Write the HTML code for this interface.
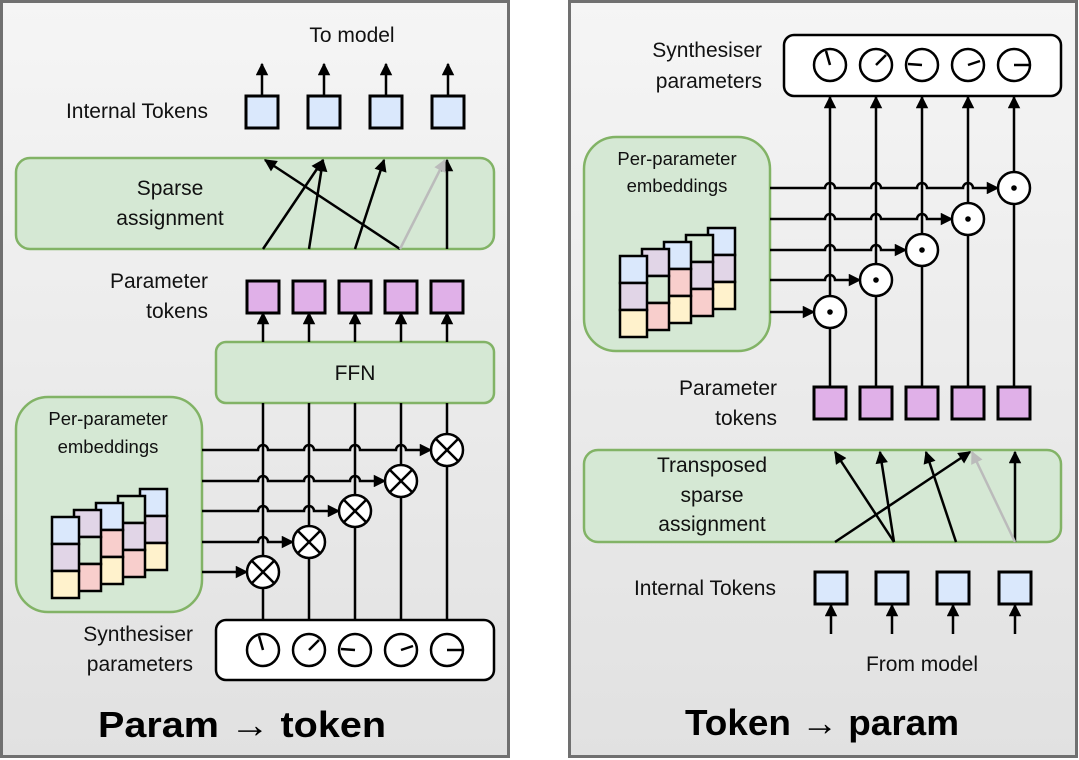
<!DOCTYPE html>
<html><head><meta charset="utf-8"><style>
html,body{margin:0;padding:0;background:#fff;}
svg{display:block;font-family:"Liberation Sans",sans-serif;}
</style></head><body>
<svg id="s" width="1079" height="760" viewBox="0 0 1079 760" xmlns="http://www.w3.org/2000/svg">
<defs>
<linearGradient id="bg" x1="0" y1="0" x2="0" y2="1"><stop offset="0" stop-color="#f5f5f5"/><stop offset="1" stop-color="#e1e1e1"/></linearGradient>
<marker id="a" viewBox="0 0 10 10" refX="9" refY="5" markerWidth="5.5" markerHeight="5" orient="auto" markerUnits="strokeWidth"><path d="M0,0L10,5L0,10z" fill="#000"/></marker>
<marker id="ag" viewBox="0 0 10 10" refX="9" refY="5" markerWidth="5.5" markerHeight="5" orient="auto" markerUnits="strokeWidth"><path d="M0,0L10,5L0,10z" fill="#bbb"/></marker>
</defs>
<rect x="1.5" y="1.5" width="507" height="755" fill="url(#bg)" stroke="#707070" stroke-width="3"/>
<rect x="569.5" y="1.5" width="507" height="755" fill="url(#bg)" stroke="#707070" stroke-width="3"/>
<g id="g"></g>
<g font-size="21" fill="#111">
<text x="352" y="42" text-anchor="middle">To model</text>
<text x="208" y="118" text-anchor="end">Internal Tokens</text>
<text x="170" y="195" text-anchor="middle">Sparse</text>
<text x="170" y="225" text-anchor="middle">assignment</text>
<text x="208" y="288" text-anchor="end">Parameter</text>
<text x="208" y="318" text-anchor="end">tokens</text>
<text x="355" y="380" text-anchor="middle">FFN</text>
<text x="193" y="641" text-anchor="end">Synthesiser</text>
<text x="193" y="671" text-anchor="end">parameters</text>
<text x="762" y="57" text-anchor="end">Synthesiser</text>
<text x="762" y="88" text-anchor="end">parameters</text>
<text x="777" y="395" text-anchor="end">Parameter</text>
<text x="777" y="425" text-anchor="end">tokens</text>
<text x="712" y="472" text-anchor="middle">Transposed</text>
<text x="712" y="502" text-anchor="middle">sparse</text>
<text x="712" y="531" text-anchor="middle">assignment</text>
<text x="776" y="595" text-anchor="end">Internal Tokens</text>
<text x="922" y="671" text-anchor="middle">From model</text>
</g>
<g font-size="18.5" fill="#111">
<text x="108" y="425" text-anchor="middle">Per-parameter</text>
<text x="108" y="453" text-anchor="middle">embeddings</text>
<text x="677" y="165" text-anchor="middle">Per-parameter</text>
<text x="677" y="192" text-anchor="middle">embeddings</text>
</g>
<g font-size="36" font-weight="bold" fill="#000">
<text x="98" y="737" textLength="288" lengthAdjust="spacingAndGlyphs">Param → token</text>
<text x="685" y="735" textLength="274" lengthAdjust="spacingAndGlyphs">Token → param</text>
</g>
</svg>
<script>
const g=document.getElementById('g');let h='';
const K='stroke="#000" stroke-width="2.5" fill="none"';
function ln(x1,y1,x2,y2,arr,gray){h+=`<line x1="${x1}" y1="${y1}" x2="${x2}" y2="${y2}" stroke="${gray?'#bbb':'#000'}" stroke-width="2.5" ${arr?`marker-end="url(#${gray?'ag':'a'})"`:''}/>`;}
function rr(x,y,w,hh,fill,stroke,r){h+=`<rect x="${x}" y="${y}" width="${w}" height="${hh}" rx="${r}" fill="${fill}" stroke="${stroke}" stroke-width="2.5"/>`;}
function sq(cx,y,fill){h+=`<rect x="${cx-16}" y="${y}" width="32" height="32" fill="${fill}" stroke="#000" stroke-width="3"/>`;}
const GF='#d5e8d4',GS='#82b366';
function knob(cx,cy,dx,dy){h+=`<circle cx="${cx}" cy="${cy}" r="16" fill="#fff" ${K}/><line x1="${cx}" y1="${cy}" x2="${cx+dx}" y2="${cy+dy}" ${K}/>`;}
const KD=[[-4,-14],[10,-10],[-14,-1],[12,-4],[15,0]];
function stacks(x0,y0){const cols=[['#dae8fc','#e1d5e7','#fff2cc'],['#e1d5e7',null,'#f8cecc'],['#dae8fc','#f8cecc','#fff2cc'],[null,'#e1d5e7','#f8cecc'],['#dae8fc','#e1d5e7','#fff2cc']];
 for(let i=4;i>=0;i--){const x=x0+i*22,y=y0-i*7;for(let j=0;j<3;j++){h+=`<rect x="${x}" y="${y+j*27}" width="27" height="27" fill="${cols[i][j]||GF}" stroke="#000" stroke-width="2.5"/>`;}}}
function hopLine(x1,y,x2,xs){let d=`M${x1},${y}`;for(const x of xs){d+=`L${x-5},${y}A5,5 0 0 1 ${x+5},${y}`;}d+=`L${x2},${y}`;h+=`<path d="${d}" ${K} marker-end="url(#a)"/>`;}
// LEFT
const LX=[263,309,355,401,447];
rr(16,158,478,91,GF,GS,14);
[[263,323],[309,323],[355,384],[400,265],[447,447]].forEach(p=>ln(p[0],249,p[1],160,1));
ln(400,249,445,160,1,1);
[262,324,386,448].forEach(x=>{ln(x,96,x,64,1);sq(x,96,'#dae8fc');});
rr(216,342,278,61,GF,GS,10);
LX.forEach(x=>{ln(x,342,x,313,1);sq(x,281,'#e0b0e8');});
LX.forEach(x=>ln(x,620,x,403));
rr(16,397,186,215,GF,GS,32);
stacks(52,517);
const LY=[572,542,511,481,450];
LY.forEach((y,i)=>{hopLine(202,y,LX[i]-16,LX.slice(0,i));});
LY.forEach((y,i)=>{const x=LX[i];h+=`<circle cx="${x}" cy="${y}" r="16" fill="#fff" ${K}/><line x1="${x-11}" y1="${y-11}" x2="${x+11}" y2="${y+11}" ${K}/><line x1="${x+11}" y1="${y-11}" x2="${x-11}" y2="${y+11}" ${K}/>`;});
rr(216,620,278,60,'#fff','#000',10);
LX.forEach((x,i)=>knob(x,650,...KD[i]));
// RIGHT
const RX=[830,876,922,968,1014];
rr(784,35,277,61,'#fff','#000',10);
RX.forEach((x,i)=>knob(x,65,...KD[i]));
RX.forEach(x=>{ln(x,387,x,97,1);sq(x,387,'#e0b0e8');});
rr(584,137,186,214,GF,GS,32);
stacks(620,256);
const RY=[312,280,250,219,188];
RY.forEach((y,i)=>{hopLine(770,y,RX[i]-16,RX.slice(0,i));});
RY.forEach((y,i)=>{const x=RX[i];h+=`<circle cx="${x}" cy="${y}" r="16" fill="#fff" ${K}/><circle cx="${x}" cy="${y}" r="2.8" fill="#000"/>`;});
rr(584,450,477,92,GF,GS,14);
[[894,835],[894,880],[835,970],[956,926],[1015,1015]].forEach(p=>ln(p[0],542,p[1],452,1));
ln(1015,542,972,452,1,1);
[831,892,953,1015].forEach(x=>{ln(x,634,x,605,1);sq(x,572,'#dae8fc');});
g.innerHTML=h;
</script>
</body></html>
